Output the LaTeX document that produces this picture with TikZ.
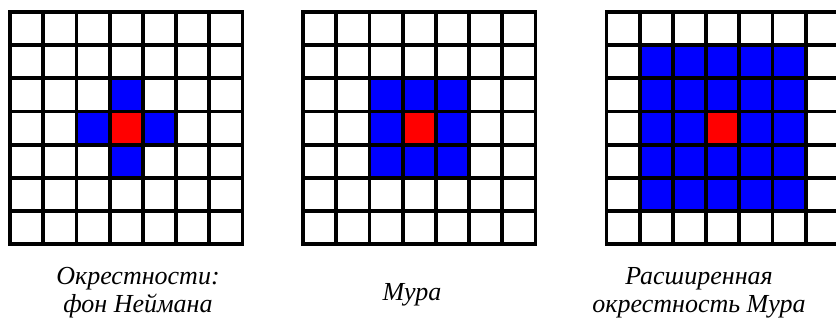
\documentclass[tikz,border=0pt]{standalone}
\usepackage{fontspec}
\setmainfont{Liberation Serif}
\usepackage{tikz}

\begin{document}
\begin{tikzpicture}[x=1pt,y=-1pt]
		\useasboundingbox (0,0) rectangle (836,320);
		\tikzset{unitcell/.style={x=33.2pt,y=-33.2pt}, lattice/.style={line width=3.8pt,line cap=rect}}
		\tikzset{labeltext/.style={font=\fontsize{26}{28}\selectfont\itshape,align=center,inner sep=0pt}}
		\def\lattice{\foreach \k in {0,...,7} {\draw[lattice] (\k,0) -- (\k,7); \draw[lattice] (0,\k) -- (7,\k);}}
		% von Neumann
		\begin{scope}[shift={(10,12)},unitcell]
			\fill[blue] (3,2) rectangle (4,5);
			\fill[blue] (2,3) rectangle (5,4);
			\fill[red] (3,3) rectangle (4,4);
			\lattice
		\end{scope}
		% Moore
		\begin{scope}[shift={(303,12)},unitcell]
			\fill[blue] (2,2) rectangle (5,5);
			\fill[red] (3,3) rectangle (4,4);
			\lattice
		\end{scope}
		% extended Moore
		\begin{scope}[shift={(606.5,12)},unitcell]
			\fill[blue] (1,1) rectangle (6,6);
			\fill[red] (3,3) rectangle (4,4);
			\lattice
		\end{scope}
		\node[labeltext] (neumann) at (138,293) {Окрестности:\\фон Неймана};
		\node[labeltext,anchor=base] (moore) at (412,301) {Мура};
		\node[labeltext] (extmoore) at (699,293) {Расширенная\\окрестность Мура};
	\end{tikzpicture}
\end{document}
